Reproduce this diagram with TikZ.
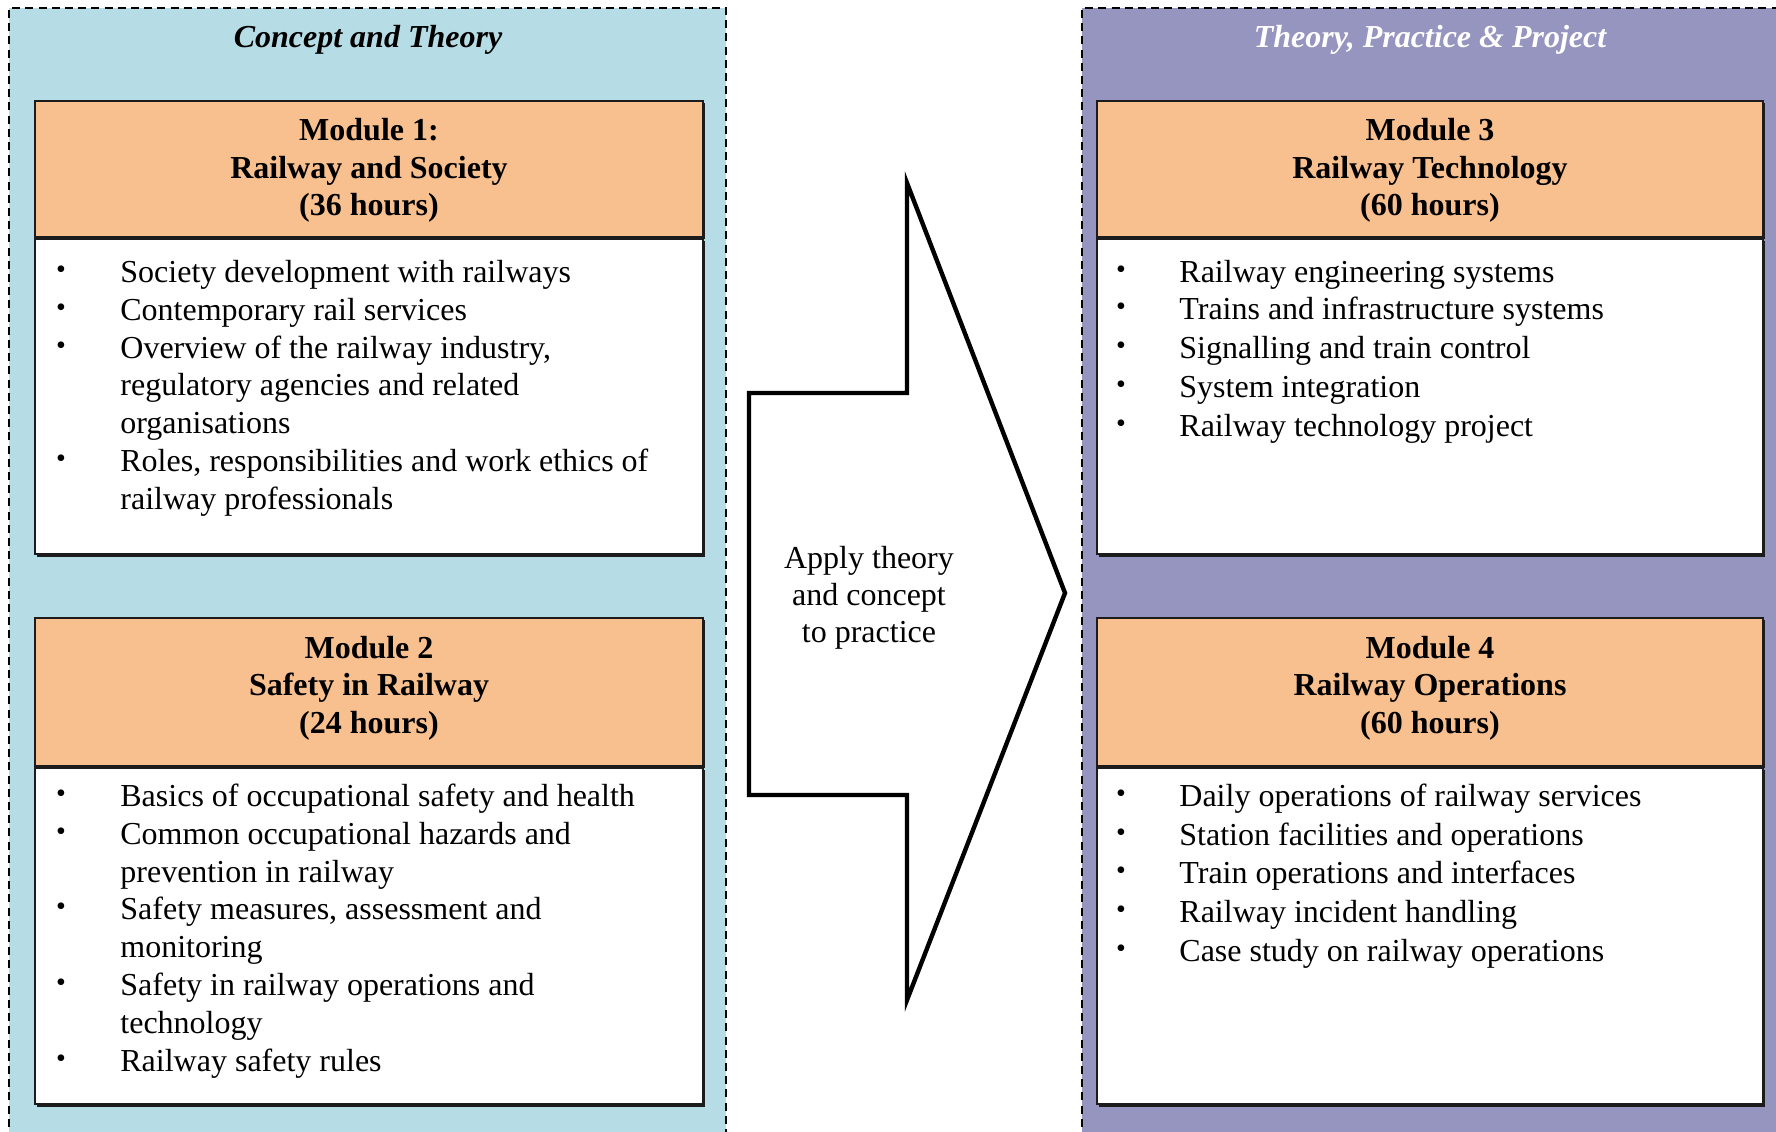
\documentclass[tikz,border=0pt]{standalone}
\usepackage{fontspec}
\setmainfont{Liberation Serif}
\definecolor{panelA}{RGB}{182,220,229}
\definecolor{panelB}{RGB}{150,149,192}
\definecolor{hdr}{RGB}{248,191,143}
\definecolor{edge}{RGB}{28,28,28}
\begin{document}
\begin{tikzpicture}[x=0.5pt,y=-0.5pt,
  dashedge/.style={line width=1pt, dash pattern=on 4pt off 2.6pt, draw=black},
  hbox/.style={fill=hdr, draw=edge, line width=1pt},
  bbox/.style={fill=white, draw=edge, line width=1pt},
  shadow/.style={fill=edge},
  htxt/.style={inner sep=0pt, anchor=base, font=\fontsize{16}{18.9}\selectfont\bfseries},
  ttxt/.style={inner sep=0pt, anchor=base, font=\fontsize{16}{18.9}\selectfont\bfseries\itshape},
  btxt/.style={inner sep=0pt, anchor=base west, font=\fontsize{16}{18.9}\selectfont},
  bul/.style={inner sep=0pt, anchor=center, font=\fontsize{14}{14}\selectfont},
  atxt/.style={inner sep=0pt, anchor=base, font=\fontsize{16}{18.9}\selectfont},
  bigarrow/.style={draw=black, fill=white, line width=2.2pt, line join=miter}
]
\useasboundingbox (0,0) rectangle (1776,1131);
\clip (0,0) rectangle (1776,1131);
\fill[white] (0,0) rectangle (1776,1131);

% panels
\fill[panelA] (9,8) rectangle (726,1140);
\draw[dashedge] (9,1140) -- (9,8) -- (726,8) -- (726,1140);
\fill[panelB] (1082,8) rectangle (1790,1140);
\draw[dashedge] (1082,1140) -- (1082,8) -- (1790,8);

\node[ttxt] (titleA) at (368,47) {Concept and Theory};
\node[ttxt, text=white] (titleB) at (1430,47) {Theory, Practice \& Project};

% left boxes
\fill[shadow] (37,103) rectangle (705,239);
\draw[hbox] (35,101) rectangle (703,237);
\fill[shadow] (37,241) rectangle (705,556.5);
\draw[bbox] (35,239) rectangle (703,554);
\fill[shadow] (37,620) rectangle (705,768);
\draw[hbox] (35,618) rectangle (703,766);
\fill[shadow] (37,770) rectangle (705,1106.5);
\draw[bbox] (35,768) rectangle (703,1104);

% right boxes
\fill[shadow] (1099,103) rectangle (1765,239);
\draw[hbox] (1097,101) rectangle (1763,237);
\fill[shadow] (1099,241) rectangle (1765,556.5);
\draw[bbox] (1097,239) rectangle (1763,554);
\fill[shadow] (1099,620) rectangle (1765,768);
\draw[hbox] (1097,618) rectangle (1763,766);
\fill[shadow] (1099,770) rectangle (1765,1106.5);
\draw[bbox] (1097,768) rectangle (1763,1104);

% headers
\node[htxt] (h1a) at (369,140) {Module 1:};
\node[htxt] (h1b) at (369,178) {Railway and Society};
\node[htxt] (h1c) at (369,215) {(36 hours)};
\node[htxt] (h2a) at (369,658) {Module 2};
\node[htxt] (h2b) at (369,695) {Safety in Railway};
\node[htxt] (h2c) at (369,733) {(24 hours)};
\node[htxt] (h3a) at (1430,140) {Module 3};
\node[htxt] (h3b) at (1430,178) {Railway Technology};
\node[htxt] (h3c) at (1430,215) {(60 hours)};
\node[htxt] (h4a) at (1430,658) {Module 4};
\node[htxt] (h4b) at (1430,695) {Railway Operations};
\node[htxt] (h4c) at (1430,733) {(60 hours)};

% module 1 body
\node[bul] (b1a) at (61,272) {•};
\node[btxt] (t1a) at (120,282) {Society development with railways};
\node[bul] (b1b) at (61,310) {•};
\node[btxt] (t1b) at (120,320) {Contemporary rail services};
\node[bul] (b1c) at (61,348) {•};
\node[btxt] (t1c) at (120,358) {Overview of the railway industry,};
\node[btxt] (t1d) at (120,395) {regulatory agencies and related};
\node[btxt] (t1e) at (120,433) {organisations};
\node[bul] (b1f) at (61,461) {•};
\node[btxt] (t1f) at (120,471) {Roles, responsibilities and work ethics of};
\node[btxt] (t1g) at (120,509) {railway professionals};

% module 2 body
\node[bul] (b2a) at (61,796) {•};
\node[btxt] (t2a) at (120,806) {Basics of occupational safety and health};
\node[bul] (b2b) at (61,834) {•};
\node[btxt] (t2b) at (120,844) {Common occupational hazards and};
\node[btxt] (t2c) at (120,882) {prevention in railway};
\node[bul] (b2d) at (61,909) {•};
\node[btxt] (t2d) at (120,919) {Safety measures, assessment and};
\node[btxt] (t2e) at (120,957) {monitoring};
\node[bul] (b2f) at (61,985) {•};
\node[btxt] (t2f) at (120,995) {Safety in railway operations and};
\node[btxt] (t2g) at (120,1033) {technology};
\node[bul] (b2h) at (61,1061) {•};
\node[btxt] (t2h) at (120,1071) {Railway safety rules};

% module 3 body
\node[bul] (b3a) at (1121,272) {•};
\node[btxt] (t3a) at (1179,282) {Railway engineering systems};
\node[bul] (b3b) at (1121,309) {•};
\node[btxt] (t3b) at (1179,319) {Trains and infrastructure systems};
\node[bul] (b3c) at (1121,348) {•};
\node[btxt] (t3c) at (1179,358) {Signalling and train control};
\node[bul] (b3d) at (1121,387) {•};
\node[btxt] (t3d) at (1179,397) {System integration};
\node[bul] (b3e) at (1121,426) {•};
\node[btxt] (t3e) at (1179,436) {Railway technology project};

% module 4 body
\node[bul] (b4a) at (1121,796) {•};
\node[btxt] (t4a) at (1179,806) {Daily operations of railway services};
\node[bul] (b4b) at (1121,835) {•};
\node[btxt] (t4b) at (1179,845) {Station facilities and operations};
\node[bul] (b4c) at (1121,873) {•};
\node[btxt] (t4c) at (1179,883) {Train operations and interfaces};
\node[bul] (b4d) at (1121,912) {•};
\node[btxt] (t4d) at (1179,922) {Railway incident handling};
\node[bul] (b4e) at (1121,951) {•};
\node[btxt] (t4e) at (1179,961) {Case study on railway operations};

% big arrow
\draw[bigarrow] (749,393) -- (907,393) -- (907,183) -- (1065,593) -- (907,1000) -- (907,795) -- (749,795) -- cycle;
\node[atxt] (a1) at (869,568) {Apply theory};
\node[atxt] (a2) at (869,605) {and concept};
\node[atxt] (a3) at (869,642) {to practice};
\end{tikzpicture}
\end{document}
